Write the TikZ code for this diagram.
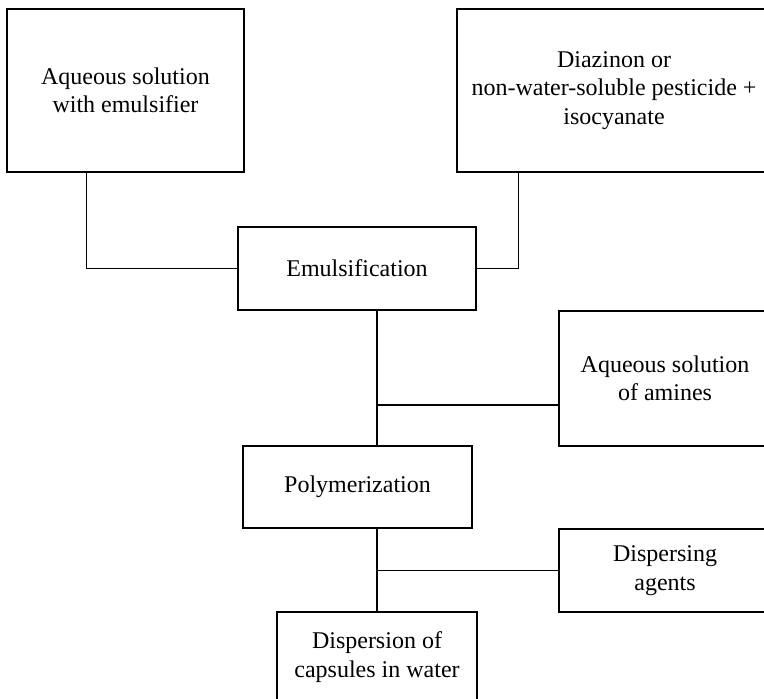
\documentclass[tikz,border=0pt]{standalone}
\usepackage{fontspec}
\setmainfont{Liberation Serif}
\tikzset{
  procbox/.style={draw, line width=0.7pt, align=center, inner sep=0pt,
    font=\fontsize{12}{14.2}\selectfont},
  link/.style={line width=0.7pt}
}
\begin{document}
\begin{tikzpicture}[x=0.5pt,y=-0.5pt]
          \useasboundingbox (0,0) rectangle (764,698);
          \clip (0,0) rectangle (764,698);

          \node [procbox, minimum width=118.5pt, minimum height=81.5pt] (aqsol) at (125.5,90.5) {Aqueous solution\\with emulsifier}; % Draws a rectangle
          \node [procbox, minimum width=157pt, minimum height=81.5pt] (diaz) at (614,90.5) {Diazinon or\\non-water-soluble pesticide +\\isocyanate}; % Draws a rectangle

          \node [procbox, minimum width=119pt, minimum height=41.5pt] (emul) at (357,268.5) {Emulsification}; % Draws a rectangle
          \node [procbox, minimum width=106pt, minimum height=67.5pt] (amines) at (665,378.5) {Aqueous solution\\of amines}; % Draws a rectangle

          \node [procbox, minimum width=114.5pt, minimum height=41pt] (poly) at (357.5,487) {Polymerization}; % Draws a rectangle
          \node [procbox, minimum width=106pt, minimum height=41.5pt] (dispag) at (665,570.5) {Dispersing\\agents}; % Draws a rectangle

          \node [procbox, minimum width=100pt, minimum height=45pt] (disp) at (377,657) {Dispersion of\\capsules in water}; % Draws a rectangle

          \coordinate (j1) at (377,405);
          \coordinate (j2) at (disp.north |- dispag.west);

          \draw [link] ([xshift=40pt]aqsol.south west) |- (emul.west);
          \draw [link] ([xshift=31pt]diaz.south west) |- (emul.east);

          \draw [link] (emul.south -| disp.north) -- (poly.north -| disp.north);
          \draw [link] (j1) -- (j1 -| amines.west);

          \draw [link] (poly.south -| disp.north) -- (disp.north);
          \draw [link] (j2) -- (dispag.west);
        \end{tikzpicture}
\end{document}
